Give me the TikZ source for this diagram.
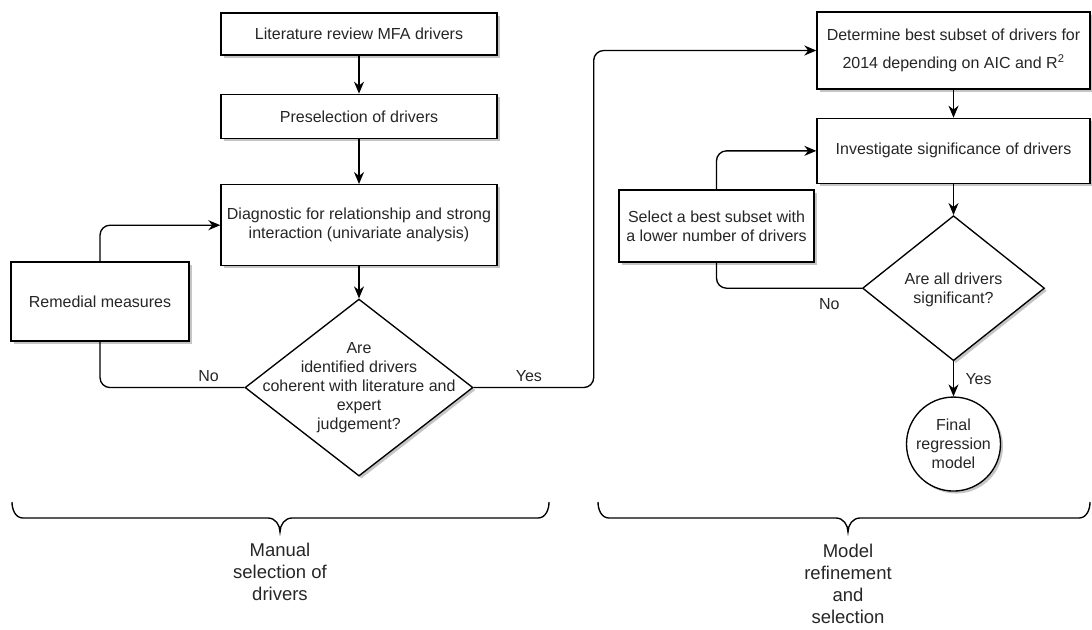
\documentclass[tikz,border=0pt]{standalone}
\usepackage{fontspec}
\setmainfont{Liberation Sans}
\usetikzlibrary{
  arrows.meta,
  positioning,
  shapes.geometric,
  shadows
}

\begin{document}
\begin{tikzpicture}[x=1pt,y=1pt,>={Stealth[length=12pt,width=10pt]},line width=1.35pt,
  every node/.style={font=\fontsize{16pt}{19pt}\selectfont, text=black!85},
  shade/.style={drop shadow={shadow xshift=2.5pt, shadow yshift=-2.5pt, fill=black!45, opacity=0.5}},
  procbox/.style={draw, fill=white, shade, align=center, inner sep=0pt},
  decision/.style={draw, fill=white, shade, diamond, inner sep=0pt},
  term/.style={draw, fill=white, shade, circle, align=center, inner sep=0pt, minimum size=94pt},
  conn/.style={rounded corners=10pt},
  bracefont/.style={align=center, font=\fontsize{18.5pt}{22pt}\selectfont}]
  \useasboundingbox (0,0) rectangle (1092,-629);

  % nodes
  \node[procbox, minimum width=276pt, minimum height=42pt] (lit) at (359,-34) {Literature review MFA drivers};
  \node[procbox, minimum width=276pt, minimum height=44pt, below=38pt of lit] (pre) {Preselection of drivers};
  \node[procbox, minimum width=276pt, minimum height=81pt, below=45pt of pre] (diag) {Diagnostic for relationship and strong\\interaction (univariate analysis)};
  \node[decision, minimum width=228pt, minimum height=177pt, below=32pt of diag] (coh) {};
  \node[align=center] (cohq) at (coh) {Are\\identified drivers\\coherent with literature and\\expert\\judgement?};
  \node[procbox, minimum width=178pt, minimum height=79pt] (rem) at (100,-301.5) {Remedial measures};

  \node[procbox, minimum width=273pt, minimum height=77pt] (det) at (953.5,-50.5) {Determine best subset of drivers for\\[9pt]2014 depending on AIC and R\textsuperscript{2}};
  \node[procbox, minimum width=273pt, minimum height=65pt, below=28pt of det] (inv) {Investigate significance of drivers};
  \node[decision, minimum width=182pt, minimum height=145pt, below=31pt of inv] (sig) {};
  \node[align=center] (sigq) at ([yshift=-2pt]sig) {Are all drivers\\significant?};
  \node[procbox, minimum width=195pt, minimum height=72pt] (sel) at (716.5,-226) {Select a best subset with\\a lower number of drivers};
  \node[term, below=35pt of sig] (final) {Final\\regression\\model};

  % wires
  \draw[->] (lit) -- (pre);
  \draw[->] (pre) -- (diag);
  \draw[->] (diag) -- (coh);
  \draw[conn] (coh.west) -| node[pos=0.124, above=2pt] (no1) {No} (rem.south);
  \draw[->, conn] (rem.north) |- (diag.west);
  \draw[->, conn] (coh.east) -- node[pos=0.46, above=2pt] (yes1) {Yes} ++(120,0) |- (det.west);

  \draw[->] (det) -- (inv);
  \draw[->] (inv) -- (sig);
  \draw[conn] (sig.west) -| node[pos=0.112, below=6pt] (no2) {No} (sel.south);
  \draw[->, conn] (sel.north) |- (inv.west);
  \draw[->] (sig) -- node[right=8pt] (yes2) {Yes} (final);

  % braces and labels
  \coordinate (b1l) at (12,-502);
  \coordinate (b2l) at (598,-502);
  \draw (b1l) to[out=-90,in=180] ++(11,-16) -- ++(245,0) to[out=0,in=90] ++(12,-14)
    to[out=90,in=180] ++(12,14) -- ++(246,0) to[out=0,in=-90] ++(11,16);
  \draw (b2l) to[out=-90,in=180] ++(11,-16) -- ++(227,0) to[out=0,in=90] ++(12,-14)
    to[out=90,in=180] ++(12,14) -- ++(219,0) to[out=0,in=-90] ++(11,16);
  \node[bracefont] (manual) at (280,-572) {Manual\\selection of\\drivers};
  \node[bracefont] (model) at (848,-584) {Model\\refinement\\and\\selection};
\end{tikzpicture}
\end{document}
